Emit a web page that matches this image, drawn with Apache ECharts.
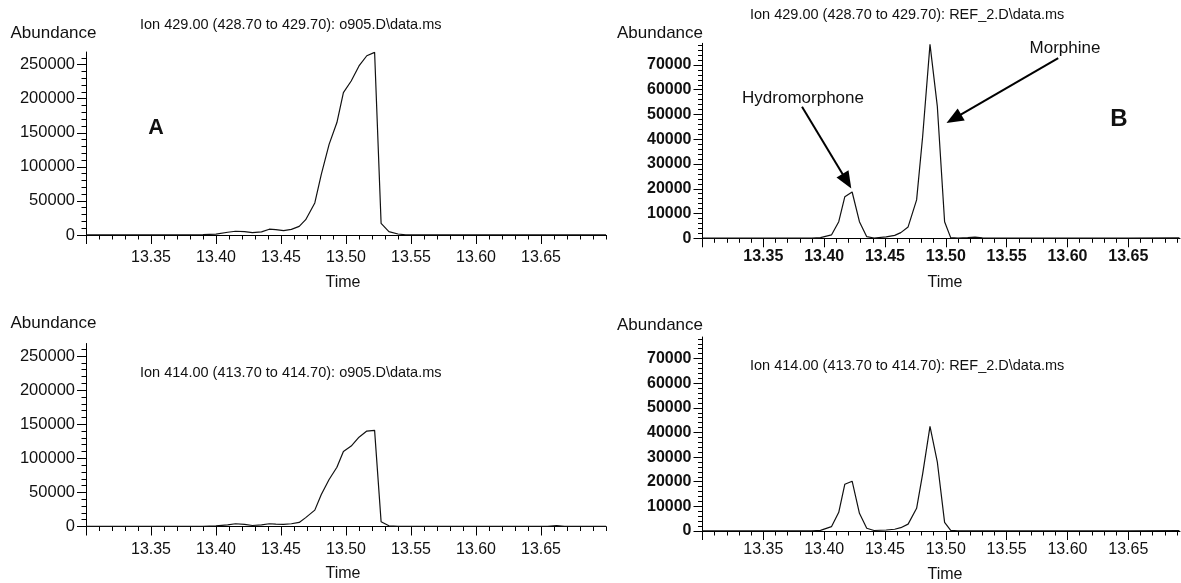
<!DOCTYPE html>
<html>
<head>
<meta charset="utf-8">
<script src="https://cdn.jsdelivr.net/npm/echarts@6/dist/echarts.min.js"></script>
<style>
html,body{margin:0;padding:0;background:#fff;}
#chart{width:1181px;height:583px;}
</style>
</head>
<body>
<div id="chart"></div>
<script>
// ---------- Data ----------
// Panel A top: Ion 429.00, o905.D
const timeA1 = [13.300,13.330,13.360,13.390,13.400,13.409,13.415,13.422,13.428,13.435,13.441,13.446,13.452,13.458,13.464,13.469,13.476,13.481,13.487,13.493,13.498,13.504,13.510,13.516,13.522,13.527,13.533,13.540,13.546,13.560,13.600,13.650,13.700];
const abundA1 = [300,200,300,500,1200,4000,5500,5000,3500,4500,8500,8000,6500,8300,12700,22500,47000,89000,133000,165000,209000,226000,248000,263000,268000,17000,5000,1500,300,100,100,100,100];

// Panel A bottom: Ion 414.00, o905.D
const timeA2 = [13.300,13.360,13.390,13.400,13.409,13.415,13.422,13.428,13.435,13.441,13.446,13.452,13.458,13.464,13.469,13.476,13.481,13.487,13.493,13.498,13.504,13.510,13.516,13.522,13.527,13.533,13.540,13.600,13.655,13.662,13.668,13.700];
const abundA2 = [200,200,300,800,2500,4000,3000,1500,2500,4000,3500,3000,4000,6000,13000,24000,47000,69000,87000,110000,118000,131000,140000,141000,7000,1000,300,200,300,1200,300,200];

// Panel B top: Ion 429.00, REF_2.D
const timeB1 = [13.300,13.350,13.390,13.397,13.406,13.412,13.417,13.423,13.429,13.435,13.441,13.451,13.458,13.463,13.469,13.476,13.481,13.487,13.493,13.499,13.504,13.510,13.518,13.524,13.530,13.600,13.650,13.692];
const abundB1 = [100,100,100,270,1350,6700,16800,18700,6700,670,130,540,1200,2300,4600,15500,41300,78300,53400,6700,270,100,300,500,150,100,100,150];

// Panel B bottom: Ion 414.00, REF_2.D
const timeB2 = [13.300,13.350,13.390,13.397,13.406,13.412,13.417,13.423,13.429,13.435,13.441,13.451,13.458,13.463,13.469,13.476,13.481,13.487,13.493,13.499,13.504,13.510,13.600,13.650,13.692];
const abundB2 = [100,100,100,270,1750,7600,19000,20200,7200,1100,200,400,700,1350,2800,9200,23300,42500,28100,3500,270,100,100,100,200];

// ---------- Axis ticks ----------
const xMajorTicks = [13.30,13.35,13.40,13.45,13.50,13.55,13.60,13.65];
const xLabelTicks = [13.35,13.40,13.45,13.50,13.55,13.60,13.65];
const xMinorTicks = [13.30,13.31,13.32,13.33,13.34,13.35,13.36,13.37,13.38,13.39,13.40,13.41,13.42,13.43,13.44,13.45,13.46,13.47,13.48,13.49,13.50,13.51,13.52,13.53,13.54,13.55,13.56,13.57,13.58,13.59,13.60,13.61,13.62,13.63,13.64,13.65,13.66,13.67,13.68,13.69,13.70];
const yMajorTicksA = [0,50000,100000,150000,200000,250000];
const yMinorTicksA = [0,10000,20000,30000,40000,50000,60000,70000,80000,90000,100000,110000,120000,130000,140000,150000,160000,170000,180000,190000,200000,210000,220000,230000,240000,250000,260000];
const yMajorTicksB = [0,10000,20000,30000,40000,50000,60000,70000];
const yMinorTicksB = [0,2000,4000,6000,8000,10000,12000,14000,16000,18000,20000,22000,24000,26000,28000,30000,32000,34000,36000,38000,40000,42000,44000,46000,48000,50000,52000,54000,56000,58000,60000,62000,64000,66000,68000,70000,72000,74000,76000,78000];

const titles = [
  'Ion 429.00 (428.70 to 429.70): o905.D\\data.ms',
  'Ion 429.00 (428.70 to 429.70): REF_2.D\\data.ms',
  'Ion 414.00 (413.70 to 414.70): o905.D\\data.ms',
  'Ion 414.00 (413.70 to 414.70): REF_2.D\\data.ms'
];

// ---------- Layout / styles ----------
const REG = '"Liberation Sans",Arial,sans-serif';

const panels = [
  {grid:{left:86, top:52, width:520, height:183}, xMax:13.70, yMax:268500, yMaj:yMajorTicksA, yMin:yMinorTicksA, yBold:false, xBold:false, xMargin:15, t:timeA1, v:abundA1},
  {grid:{left:702.5, top:43.3, width:477.5, height:195}, xMax:13.6925, yMax:78750, yMaj:yMajorTicksB, yMin:yMinorTicksB, yBold:true, xBold:true, xMargin:10.5, t:timeB1, v:abundB1},
  {grid:{left:86, top:343.5, width:520, height:183}, xMax:13.70, yMax:268500, yMaj:yMajorTicksA, yMin:yMinorTicksA, yBold:false, xBold:false, xMargin:15, t:timeA2, v:abundA2},
  {grid:{left:702.5, top:337, width:477.5, height:194}, xMax:13.6925, yMax:78750, yMaj:yMajorTicksB, yMin:yMinorTicksB, yBold:true, xBold:false, xMargin:10.5, t:timeB2, v:abundB2}
];

const grids = [], xAxes = [], yAxes = [], series = [];
panels.forEach((p, i) => {
  grids.push(Object.assign({containLabel:false}, p.grid));
  const lineStyle = {color:'#000', width:1};
  xAxes.push({
    type:'value', gridIndex:i, min:13.30, max:p.xMax, position:'bottom',
    axisLine:{show:true, onZero:false, lineStyle},
    axisTick:{show:true, length:9, customValues:xMajorTicks, lineStyle},
    axisLabel:{show:true, customValues:xLabelTicks, margin:p.xMargin, color:'#111',
      fontFamily:REG, fontSize:16, fontWeight:p.xBold?'bold':'normal',
      formatter:v=>v.toFixed(2)},
    splitLine:{show:false}
  });
  xAxes.push({
    type:'value', gridIndex:i, min:13.30, max:p.xMax, position:'bottom',
    axisLine:{show:false},
    axisTick:{show:true, length:4.5, customValues:xMinorTicks, lineStyle},
    axisLabel:{show:false},
    splitLine:{show:false}
  });
  yAxes.push({
    type:'value', gridIndex:i, min:0, max:p.yMax, position:'left',
    axisLine:{show:true, onZero:false, lineStyle},
    axisTick:{show:true, length:9, customValues:p.yMaj, lineStyle},
    axisLabel:{show:true, customValues:p.yMaj, margin:11, color:'#111',
      fontFamily:REG, fontSize:p.yBold?16:16.5, fontWeight:p.yBold?'bold':'normal',
      formatter:v=>String(Math.round(v))},
    splitLine:{show:false}
  });
  yAxes.push({
    type:'value', gridIndex:i, min:0, max:p.yMax, position:'left', offset:0,
    axisLine:{show:false},
    axisTick:{show:true, length:4.5, customValues:p.yMin, lineStyle},
    axisLabel:{show:false},
    splitLine:{show:false}
  });
  const s = {
    type:'line', xAxisIndex:2*i, yAxisIndex:2*i,
    data:p.t.map((t,k)=>[t,p.v[k]]),
    showSymbol:false, symbol:'none', smooth:false,
    lineStyle:{color:'#111', width:1.2},
    clip:true, silent:true
  };
  if (i === 1) {
    s.markLine = {
      silent:true, animation:false,
      symbol:['none','triangle'], symbolSize:[14,17],
      lineStyle:{color:'#000', width:2, type:'solid'},
      label:{show:false},
      data:[
        [{coord:[13.3818,53150]},{coord:[13.4187,23060]}],
        [{coord:[13.5924,72800]},{coord:[13.5066,48300]}]
      ]
    };
  }
  series.push(s);
});

function txt(text, x, y, font, align){
  return {type:'text', x, y, silent:true,
    style:{text, font, fill:'#111', textAlign:align||'left', textVerticalAlign:'middle'}};
}

const graphics = [
  txt(titles[0], 140, 25, '14.5px '+REG),
  txt(titles[1], 750, 15, '14.5px '+REG),
  txt(titles[2], 140, 372.5, '14.5px '+REG),
  txt(titles[3], 750, 365.5, '14.5px '+REG),
  txt('Abundance', 10.5, 33, '17px '+REG),
  txt('Abundance', 617, 33, '17px '+REG),
  txt('Abundance', 10.5, 323.5, '17px '+REG),
  txt('Abundance', 617, 325.5, '17px '+REG),
  txt('Time', 343, 283, '16px '+REG, 'center'),
  txt('Time', 945, 283, '16px '+REG, 'center'),
  txt('Time', 343, 573.5, '16px '+REG, 'center'),
  txt('Time', 945, 575, '16px '+REG, 'center'),
  txt('A', 156, 128.5, 'bold 21.5px '+REG, 'center'),
  txt('B', 1119, 119.5, 'bold 24px '+REG, 'center'),
  txt('Hydromorphone', 803, 98.5, '17px '+REG, 'center'),
  txt('Morphine', 1065, 48.5, '17px '+REG, 'center')
];

const chart = echarts.init(document.getElementById('chart'), null, {renderer:'canvas'});
chart.setOption({
  animation:false,
  backgroundColor:'#fff',
  grid:grids, xAxis:xAxes, yAxis:yAxes, series,
  graphic:graphics
});
</script>
</body>
</html>
